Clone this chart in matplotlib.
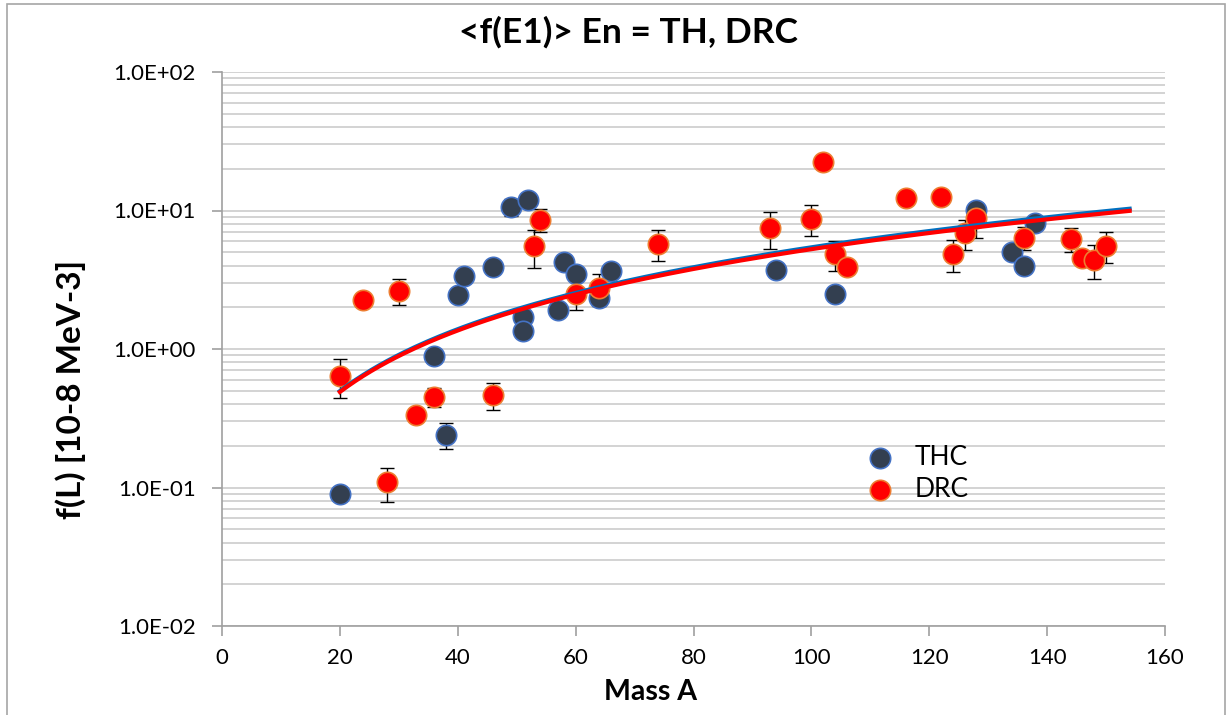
import matplotlib
matplotlib.use("Agg")
import matplotlib.pyplot as plt
from matplotlib.ticker import FuncFormatter, LogLocator, NullFormatter
from matplotlib.patches import Rectangle
import numpy as np

plt.rcParams['font.family'] = ['Lato', 'DejaVu Sans']

# THC points
thc_A = [20, 36, 38, 40, 41, 46, 49, 52, 51, 51, 58, 60, 57, 64, 66, 94, 104, 128, 134, 136, 138]
thc_f = [0.09, 0.89, 0.24, 2.46, 3.37, 3.92, 10.6, 11.9, 1.70, 1.35, 4.26, 3.49, 1.91, 2.34, 3.67,
         3.73, 2.50, 10.1, 5.03, 3.99, 8.15]
thc_err = [0, 0, 0.05, 0, 0, 0, 1.5, 0, 0, 0, 0, 0, 0, 0, 0, 0, 0, 0, 0, 0, 0]

# DRC points
drc_A = [20, 24, 28, 30, 33, 36, 46, 53, 54, 60, 64, 74, 93, 100, 102, 104, 106, 116, 122,
         124, 126, 128, 136, 144, 146, 148, 150]
drc_f = [0.64, 2.26, 0.109, 2.63, 0.333, 0.45, 0.464, 5.56, 8.57, 2.50, 2.76, 5.75, 7.5, 8.7, 22.5,
         4.87, 3.92, 12.4, 12.6, 4.87, 6.9, 8.87, 6.35, 6.25, 4.55, 4.4, 5.56]
drc_err = [0.2, 0.2, 0.03, 0.55, 0, 0.07, 0.1, 1.7, 1.6, 0.6, 0.7, 1.45, 2.2, 2.2, 0,
           1.2, 0, 0, 0, 1.3, 1.7, 2.5, 1.2, 1.2, 0, 1.2, 1.4]

# power-law trendlines f = a * A^b
thc_trend = (0.00581, 1.485)
drc_trend = (0.0059, 1.475)
trend_range = (20, 154)

fig = plt.figure(figsize=(12.26, 7.15), dpi=100)
ax = fig.add_axes([222/1226, 1-626/715, (1165-222)/1226, (626-72)/715])

# chart border
fig.patches.append(Rectangle((7/1226, -0.05), (1225-7)/1226, 1.05-4/715, transform=fig.transFigure,
                             fill=False, edgecolor='#a6a6a6', lw=1.2))

def show_err(x, y, e, z):
    x, y, e = np.array(x), np.array(y), np.array(e)
    m = e > 0
    ax.errorbar(x[m], y[m], yerr=e[m], fmt='none', ecolor='black', elinewidth=1,
                capsize=5, capthick=1, zorder=z)

show_err(thc_A, thc_f, thc_err, 2)
show_err(drc_A, drc_f, drc_err, 2)

ax.scatter(thc_A, thc_f, s=215, c='#333f50', edgecolors='#4472c4', linewidths=1.2, zorder=3, label='THC')
ax.scatter(drc_A, drc_f, s=215, c='#ff0000', edgecolors='#ed7d31', linewidths=1.2, zorder=4, label='DRC')

xx = np.linspace(trend_range[0], trend_range[1], 200)
ax.plot(xx, thc_trend[0] * xx**thc_trend[1], color='#0070c0', lw=3, zorder=5)
ax.plot(xx, drc_trend[0] * xx**drc_trend[1], color='#ff0000', lw=3, zorder=6)

ax.set_yscale('log')
ax.set_ylim(0.01, 100)
ax.set_xlim(0, 160)
ax.set_xticks(range(0, 161, 20))
ax.yaxis.set_major_locator(LogLocator(base=10, numticks=10))
ax.yaxis.set_minor_locator(LogLocator(base=10, subs=np.arange(2, 10), numticks=10))
ax.yaxis.set_minor_formatter(NullFormatter())
ax.yaxis.set_major_formatter(FuncFormatter(lambda v, p: '%.1fE%+03d' % (1.0, int(round(np.log10(v))))))

ax.grid(True, which='both', axis='y', color='#d0d0d0', lw=1.3, zorder=0)
ax.set_axisbelow(True)
for s in ['top', 'right']:
    ax.spines[s].set_visible(False)
for s in ['left', 'bottom']:
    ax.spines[s].set_color('#a0a0a0')
    ax.spines[s].set_linewidth(1.2)
ax.tick_params(axis='both', which='major', length=7, width=1.2, color='#a0a0a0', labelsize=16)
ax.tick_params(axis='x', pad=9)
ax.tick_params(axis='y', pad=12)
ax.tick_params(axis='y', which='minor', length=0)

fig.text(628/1226, 1-32/715, '<f(E1)> En = TH, DRC', ha='center', va='center', fontsize=25.5, fontweight='bold')
fig.text(651/1226, 1-692/715, 'Mass A', ha='center', va='center', fontsize=20.5, fontweight='bold')
fig.text(71/1226, 1-389/715, 'f(L) [10-8 MeV-3]', ha='center', va='center', rotation=90, fontsize=24, fontweight='bold')

ax.legend(loc='center left', bbox_to_anchor=(0.645, 0.275), frameon=False, fontsize=19,
          handletextpad=0.3, labelspacing=0.25, markerscale=1.0)

fig.savefig('out.png', dpi=100)
